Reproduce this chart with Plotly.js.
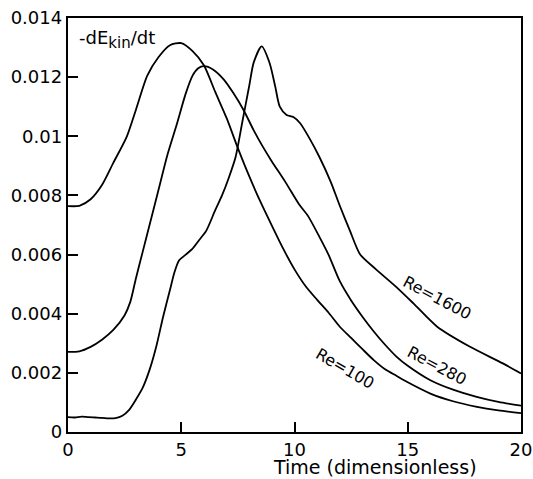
<!DOCTYPE html>
<html>
<head>
<meta charset="utf-8">
<script src="https://cdn.plot.ly/plotly-3.0.1.min.js"></script>
<style>html,body{margin:0;padding:0;background:#fff;}#plot{width:533px;height:479px;}</style>
</head>
<body>
<div id="plot"></div>
<script>
// Re=100
const t100 = [0,0.5,1.0,1.5,2.0,2.6,3.0,3.5,4.0,4.5,5.0,5.5,6.0,6.5,7.0,7.5,8.0,8.5,9.0,9.5,10.0,10.5,11.0,11.5,12.0,12.5,13.0,13.5,14.0,14.5,15.0,16.0,17.0,18.0,19.0,20.0];
const y100 = [0.00764,0.00765,0.00787,0.00835,0.0091,0.0100,0.0109,0.01205,0.01268,0.01308,0.01315,0.01288,0.0124,0.0115,0.01062,0.0096,0.00865,0.00778,0.00698,0.0062,0.0055,0.00492,0.00447,0.00404,0.00356,0.00318,0.0028,0.00243,0.00212,0.0019,0.00168,0.0013,0.00104,0.00086,0.00073,0.00064];
// Re=280
const t280 = [0,0.5,1.0,1.5,2.0,2.5,2.75,3.0,3.3,3.6,4.0,4.4,4.8,5.2,5.5,5.75,6.0,6.4,6.9,7.3,7.75,8.2,8.6,9.0,9.6,10.2,10.6,11.1,11.5,12.0,12.5,13.0,13.5,14.0,14.5,15.0,16.0,17.0,18.0,19.0,20.0];
const y280 = [0.00271,0.00273,0.00288,0.00312,0.00345,0.00395,0.0044,0.0052,0.0061,0.0070,0.0082,0.0094,0.0104,0.01145,0.01205,0.0123,0.01237,0.01226,0.0119,0.01146,0.01089,0.0102,0.00965,0.00915,0.00845,0.0077,0.0073,0.0066,0.0060,0.0051,0.00445,0.0039,0.0034,0.00295,0.00255,0.00224,0.00175,0.00143,0.0012,0.00102,0.00089];
// Re=1600
const t1600 = [0,0.3,0.6,0.9,1.2,1.5,1.8,2.1,2.4,2.7,3.0,3.3,3.6,3.9,4.2,4.5,4.7,4.9,5.2,5.5,5.8,6.1,6.5,6.8,7.1,7.4,7.7,8.0,8.2,8.55,8.9,9.15,9.35,9.65,9.95,10.25,10.7,11.1,11.6,12.0,12.45,12.9,13.6,14.5,15.25,16.3,17.75,19.2,20.0];
const y1600 = [0.00050,0.00049,0.00052,0.00050,0.00049,0.00048,0.00046,0.00047,0.00055,0.00075,0.0011,0.0015,0.0021,0.0029,0.0039,0.0048,0.0054,0.0058,0.0060,0.0062,0.0065,0.0068,0.0075,0.0080,0.0086,0.0093,0.0105,0.0117,0.0125,0.01304,0.01248,0.01168,0.0110,0.01072,0.01065,0.01044,0.00988,0.0093,0.00846,0.00765,0.0068,0.0060,0.0055,0.0049,0.00435,0.00356,0.00288,0.00232,0.00198];

const xTickVals = [0,5,10,15,20];
const xTickText = ['0','5','10','15','20'];
const yTickVals = [0,0.002,0.004,0.006,0.008,0.010,0.012,0.014];
const yTickText = ['0','0.002','0.004','0.006','0.008','0.01','0.012','0.014'];

const FONT = 'DejaVu Sans, Arial, sans-serif';
const lineStyle = {color:'#000', width:1.8, shape:'spline', smoothing:0.7};

const traces = [
  {x:t100, y:y100, mode:'lines', line:lineStyle, name:'Re=100'},
  {x:t280, y:y280, mode:'lines', line:lineStyle, name:'Re=280'},
  {x:t1600, y:y1600, mode:'lines', line:lineStyle, name:'Re=1600'}
];

const axisCommon = {
  showgrid:false, zeroline:false, showline:true, linecolor:'#000', linewidth:2.2,
  mirror:true, ticks:'inside', ticklen:10, tickwidth:2, tickcolor:'#000',
  tickfont:{family:FONT, size:18, color:'#000'}
};

const layout = {
  width:533, height:479,
  margin:{l:68, r:12, t:18, b:47, pad:0},
  paper_bgcolor:'#fff', plot_bgcolor:'#fff',
  showlegend:false,
  font:{family:FONT, color:'#000'},
  xaxis:Object.assign({}, axisCommon, {range:[0,20], tickvals:xTickVals, ticktext:xTickText}),
  yaxis:Object.assign({}, axisCommon, {range:[0,0.014], tickvals:yTickVals, ticktext:yTickText}),
  annotations:[
    {xref:'x', yref:'paper', x:13.55, y:0, yshift:-35, xanchor:'center', yanchor:'middle', showarrow:false,
     text:'Time (dimensionless)', font:{family:FONT, size:19, color:'#000'}},
    {xref:'x', yref:'y', x:0.4, y:0.01326, xanchor:'left', yanchor:'middle', showarrow:false,
     text:'-dE<sub><span style="font-size:15px">kin</span></sub>/dt', font:{family:FONT, size:18, color:'#000'}},
    {xref:'x', yref:'y', x:16.27, y:0.004545, showarrow:false, textangle:28,
     text:'Re=1600', font:{family:FONT, size:16, color:'#000'}},
    {xref:'x', yref:'y', x:16.28, y:0.00226, showarrow:false, textangle:28,
     text:'Re=280', font:{family:FONT, size:16, color:'#000'}},
    {xref:'x', yref:'y', x:12.23, y:0.00215, showarrow:false, textangle:30,
     text:'Re=100', font:{family:FONT, size:16, color:'#000'}}
  ]
};

Plotly.newPlot('plot', traces, layout, {displayModeBar:false, staticPlot:true});
</script>
</body>
</html>
